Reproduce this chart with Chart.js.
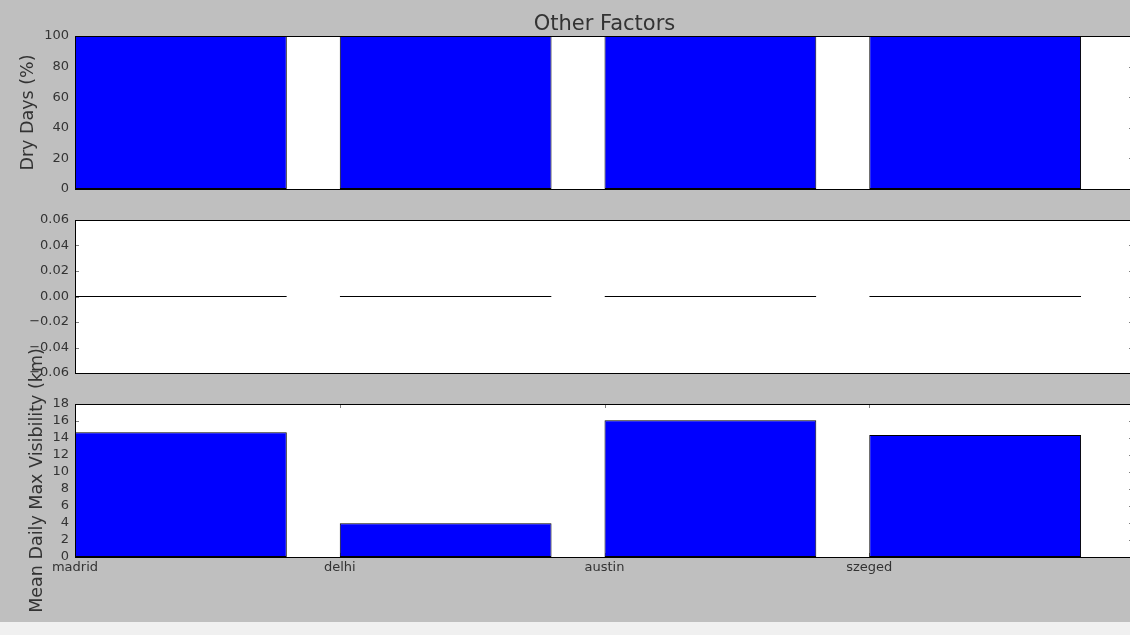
<!DOCTYPE html>
<html>
<head>
<meta charset="utf-8">
<script src="https://cdn.jsdelivr.net/npm/chart.js@4"></script>
<style>
    html, body { margin: 0; padding: 0; background: #f0f0f0; overflow: hidden; width: 1130px; height: 635px; }
    #fig { position: relative; width: 1130px; height: 622px; background: #bfbfbf; overflow: hidden; }
    .box { position: absolute; left: 0; width: 1150px; }
</style>
</head>
<body>
<div id="fig">
    <div class="box" style="top:0;height:203px"><canvas id="dry-chart"></canvas></div>
    <div class="box" style="top:200px;height:190px"><canvas id="other-chart"></canvas></div>
    <div class="box" style="top:330px;height:292px"><canvas id="vis-chart"></canvas></div>
</div>
<script>
const cities = ["madrid", "delhi", "austin", "szeged"];
const dryDays = [100, 100, 100, 100];
const otherValues = [0, 0, 0, 0];
const visibility = [14.67, 3.96, 16.08, 14.35];

const dryRange = [0, 100, 20];
const otherRange = [-0.06, 0.06, 0.02];
const visRange = [0, 18, 2];
const xRange = [0, 4];

const textColor = "#333";
const fontFamily = "'DejaVu Sans', sans-serif";

// white axes background, inward ticks and the black frame
const axesFrame = {
    id: "axesFrame",
    beforeDraw(chart) {
        const a = chart.chartArea;
        const ctx = chart.ctx;
        ctx.save();
        ctx.fillStyle = "#fff";
        ctx.fillRect(a.left, a.top, a.width, a.height);
        ctx.restore();
    },
    beforeDatasetsDraw(chart) {
        const a = chart.chartArea;
        const ctx = chart.ctx;
        const y = chart.scales.y;
        const x = chart.scales.x;
        ctx.save();
        ctx.strokeStyle = "#808080";
        ctx.lineWidth = 1;
        ctx.beginPath();
        y.ticks.forEach((t, i) => {
            const py = Math.round(y.getPixelForTick(i)) + 0.5;
            ctx.moveTo(a.left, py); ctx.lineTo(a.left + 4, py);
            ctx.moveTo(a.right - 5, py); ctx.lineTo(a.right, py);
        });
        if (x.options.ticks.display) {
            for (let v = xRange[0]; v <= xRange[1]; v++) {
                const px = Math.round(x.getPixelForValue(v)) + 0.5;
                ctx.moveTo(px, a.top); ctx.lineTo(px, a.top + 4);
                ctx.moveTo(px, a.bottom); ctx.lineTo(px, a.bottom - 4);
            }
        }
        ctx.stroke();
        ctx.restore();
    },
    afterDatasetsDraw(chart) {
        const a = chart.chartArea;
        const ctx = chart.ctx;
        ctx.save();
        ctx.strokeStyle = "#000";
        ctx.lineWidth = 1;
        ctx.strokeRect(a.left + 0.5, a.top + 0.5, a.width, a.height);
        ctx.restore();
    }
};

function makeChart(canvasId, values, range, opts) {
    const points = values.map((v, i) => ({ x: i + 0.4, y: v }));
    return new Chart(document.getElementById(canvasId), {
        type: "bar",
        data: {
            datasets: [{
                data: points,
                backgroundColor: "#0000ff",
                borderColor: "#000",
                borderWidth: 1,
                borderSkipped: false,
                barPercentage: 0.8,
                categoryPercentage: 1,
                minBarLength: opts.minBar || 0
            }]
        },
        plugins: [axesFrame],
        options: {
            responsive: true,
            maintainAspectRatio: false,
            animation: false,
            events: [],
            layout: { padding: { left: 0, right: 16, top: opts.padTop, bottom: opts.padBottom } },
            plugins: {
                legend: { display: false },
                tooltip: { enabled: false },
                title: opts.title ? {
                    display: true,
                    text: opts.title,
                    fullSize: false,
                    color: textColor,
                    font: { family: fontFamily, size: 21, weight: "normal", lineHeight: 1 },
                    padding: { top: 14, bottom: 1 }
                } : { display: false }
            },
            scales: {
                x: {
                    type: "linear",
                    min: xRange[0],
                    max: xRange[1],
                    offset: false,
                    grid: { display: false, offset: false, drawTicks: false },
                    border: { display: false },
                    ticks: {
                        display: !!opts.showX,
                        stepSize: 1,
                        autoSkip: false,
                        maxRotation: 0,
                        padding: 3,
                        color: textColor,
                        font: { family: fontFamily, size: 13 },
                        callback: v => cities[v] || ""
                    },
                    afterFit: s => { s.height = opts.xHeight || 0; }
                },
                y: {
                    min: range[0],
                    max: range[1],
                    grid: { display: false, drawTicks: false },
                    border: { display: false },
                    ticks: {
                        stepSize: range[2],
                        autoSkip: false,
                        padding: 6,
                        color: textColor,
                        font: { family: fontFamily, size: 13 },
                        callback: opts.tickFormat || (v => v)
                    },
                    title: opts.yTitle ? {
                        display: true,
                        text: opts.yTitle,
                        color: textColor,
                        font: { family: fontFamily, size: 17.5 },
                        padding: { top: opts.yTitlePad, bottom: 0 }
                    } : { display: false },
                    afterFit: s => { s.width = 75; }
                }
            }
        }
    });
}

makeChart("dry-chart", dryDays, dryRange, {
    title: "Other Factors",
    yTitle: "Dry Days (%)",
    yTitlePad: 18,
    padTop: 0,
    padBottom: 14
});

makeChart("other-chart", otherValues, otherRange, {
    padTop: 20,
    padBottom: 17,
    minBar: 1,
    tickFormat: v => v.toFixed(2).replace("-", "\u2212")
});

makeChart("vis-chart", visibility, visRange, {
    yTitle: "Mean Daily Max Visibility (km)",
    yTitlePad: 26.5,
    padTop: 74,
    padBottom: 0,
    showX: true,
    xHeight: 65
});
</script>
</body>
</html>
